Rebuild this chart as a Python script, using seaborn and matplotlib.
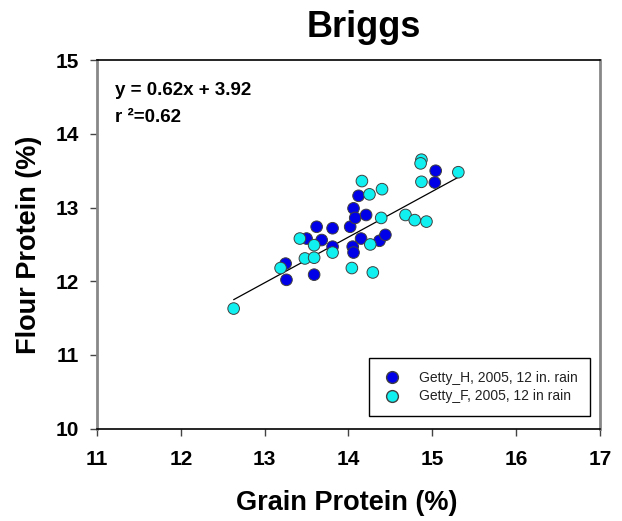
import matplotlib
matplotlib.use("Agg")
import matplotlib.pyplot as plt
import seaborn as sns
import pandas as pd
import numpy as np
from matplotlib.lines import Line2D

# ---- data ----
h_label = "Getty_H, 2005, 12 in. rain"
f_label = "Getty_F, 2005, 12 in rain"
h_grain = [13.25, 13.26, 13.50, 13.62, 13.68, 13.81, 13.81, 13.59, 14.02, 14.06,
           14.08, 14.12, 14.21, 14.15, 14.05, 14.06, 14.37, 14.44, 15.04, 15.03]
h_flour = [12.24, 12.02, 12.58, 12.74, 12.56, 12.72, 12.47, 12.09, 12.74, 12.99,
           12.86, 13.16, 12.90, 12.58, 12.47, 12.39, 12.55, 12.63, 13.50, 13.34]
f_grain = [12.63, 13.19, 13.42, 13.59, 13.81, 13.48, 13.59, 14.87, 14.86, 14.87,
           15.31, 14.16, 14.25, 14.40, 14.39, 14.68, 14.79, 14.93, 14.26, 14.04, 14.29]
f_flour = [11.63, 12.18, 12.58, 12.49, 12.39, 12.31, 12.32, 13.65, 13.60, 13.35,
           13.48, 13.36, 13.18, 13.25, 12.86, 12.90, 12.83, 12.81, 12.50, 12.18, 12.12]
slope, intercept, r2 = 0.62, 3.92, 0.62
x_ticks = [11, 12, 13, 14, 15, 16, 17]
y_ticks = [10, 11, 12, 13, 14, 15]
title = "Briggs"
x_label = "Grain Protein (%)"
y_label = "Flour Protein (%)"

df = pd.DataFrame({
    "grain": h_grain + f_grain,
    "flour": h_flour + f_flour,
    "set": [h_label] * len(h_grain) + [f_label] * len(f_grain),
})

sns.set_style("white")
plt.rcParams["font.family"] = ["Liberation Sans", "DejaVu Sans"]
plt.rcParams["text.color"] = "black"
plt.rcParams["axes.labelcolor"] = "black"
plt.rcParams["xtick.color"] = "black"
plt.rcParams["ytick.color"] = "black"

blue = "#0000E8"
cyan = "#10F0F0"

fig = plt.figure(figsize=(6.22, 5.21), dpi=100)
ax = fig.add_axes([97 / 622, 1 - 428.7 / 521, 503 / 622, 368.5 / 521])

sns.scatterplot(data=df, x="grain", y="flour", hue="set",
                hue_order=[h_label, f_label], palette=[blue, cyan],
                s=70, edgecolor="#404040", linewidth=0.7, ax=ax, legend=False, zorder=3)

xs = np.array([min(df["grain"]), max(df["grain"])])
sns.lineplot(x=xs, y=slope * xs + intercept, color="black", linewidth=0.9, ax=ax, zorder=2)

ax.set_xlim(11, 17)
ax.set_ylim(10, 15)
ax.set_xticks(x_ticks)
ax.set_yticks(y_ticks)
ax.set_xticklabels([str(t) for t in x_ticks], fontweight="bold", fontsize=15)
ax.set_yticklabels([str(t) for t in y_ticks], fontweight="bold", fontsize=15)
ax.tick_params(axis="x", direction="out", length=5, width=1, color="#444444", pad=10, bottom=True)
ax.tick_params(axis="y", direction="out", length=5, width=1, color="#444444", pad=8, left=True)

for side in ["left", "right"]:
    ax.spines[side].set_color("#888888")
    ax.spines[side].set_linewidth(2)
for side in ["top", "bottom"]:
    ax.spines[side].set_color("black")
    ax.spines[side].set_linewidth(1.2)

ax.set_xlabel(x_label, fontsize=19.5, fontweight="bold")
ax.set_ylabel(y_label, fontsize=19.5, fontweight="bold")
ax.xaxis.set_label_coords(0.496, -0.166)
ax.yaxis.set_label_coords(-0.109, 0.5)

ax.text(0.036, 0.906, f"y = {slope:.2f}x + {intercept:.2f}", transform=ax.transAxes,
        fontsize=13.5, fontweight="bold", va="baseline", ha="left")
ax.text(0.036, 0.832, f"r \u00b2={r2:.2f}", transform=ax.transAxes,
        fontsize=13.5, fontweight="bold", va="baseline", ha="left")

fig.text(364 / 622, 1 - 37 / 521, title, fontsize=26, fontweight="bold",
         ha="center", va="baseline")

handles = [
    Line2D([], [], marker="o", linestyle="none", markerfacecolor=blue,
           markeredgecolor="#404040", markersize=8.5, label=h_label),
    Line2D([], [], marker="o", linestyle="none", markerfacecolor=cyan,
           markeredgecolor="#404040", markersize=8.5, label=f_label),
]
leg = ax.legend(handles=handles, loc="lower right", bbox_to_anchor=(0.980, 0.0345),
                borderaxespad=0, fontsize=10, frameon=True, fancybox=False,
                framealpha=1, edgecolor="black", borderpad=0.9, labelspacing=0.35,
                handletextpad=1.2, handlelength=1.5)
leg.get_frame().set_linewidth(1.0)
for t in leg.get_texts():
    t.set_color("#222222")

fig.savefig("out.png", dpi=100)
